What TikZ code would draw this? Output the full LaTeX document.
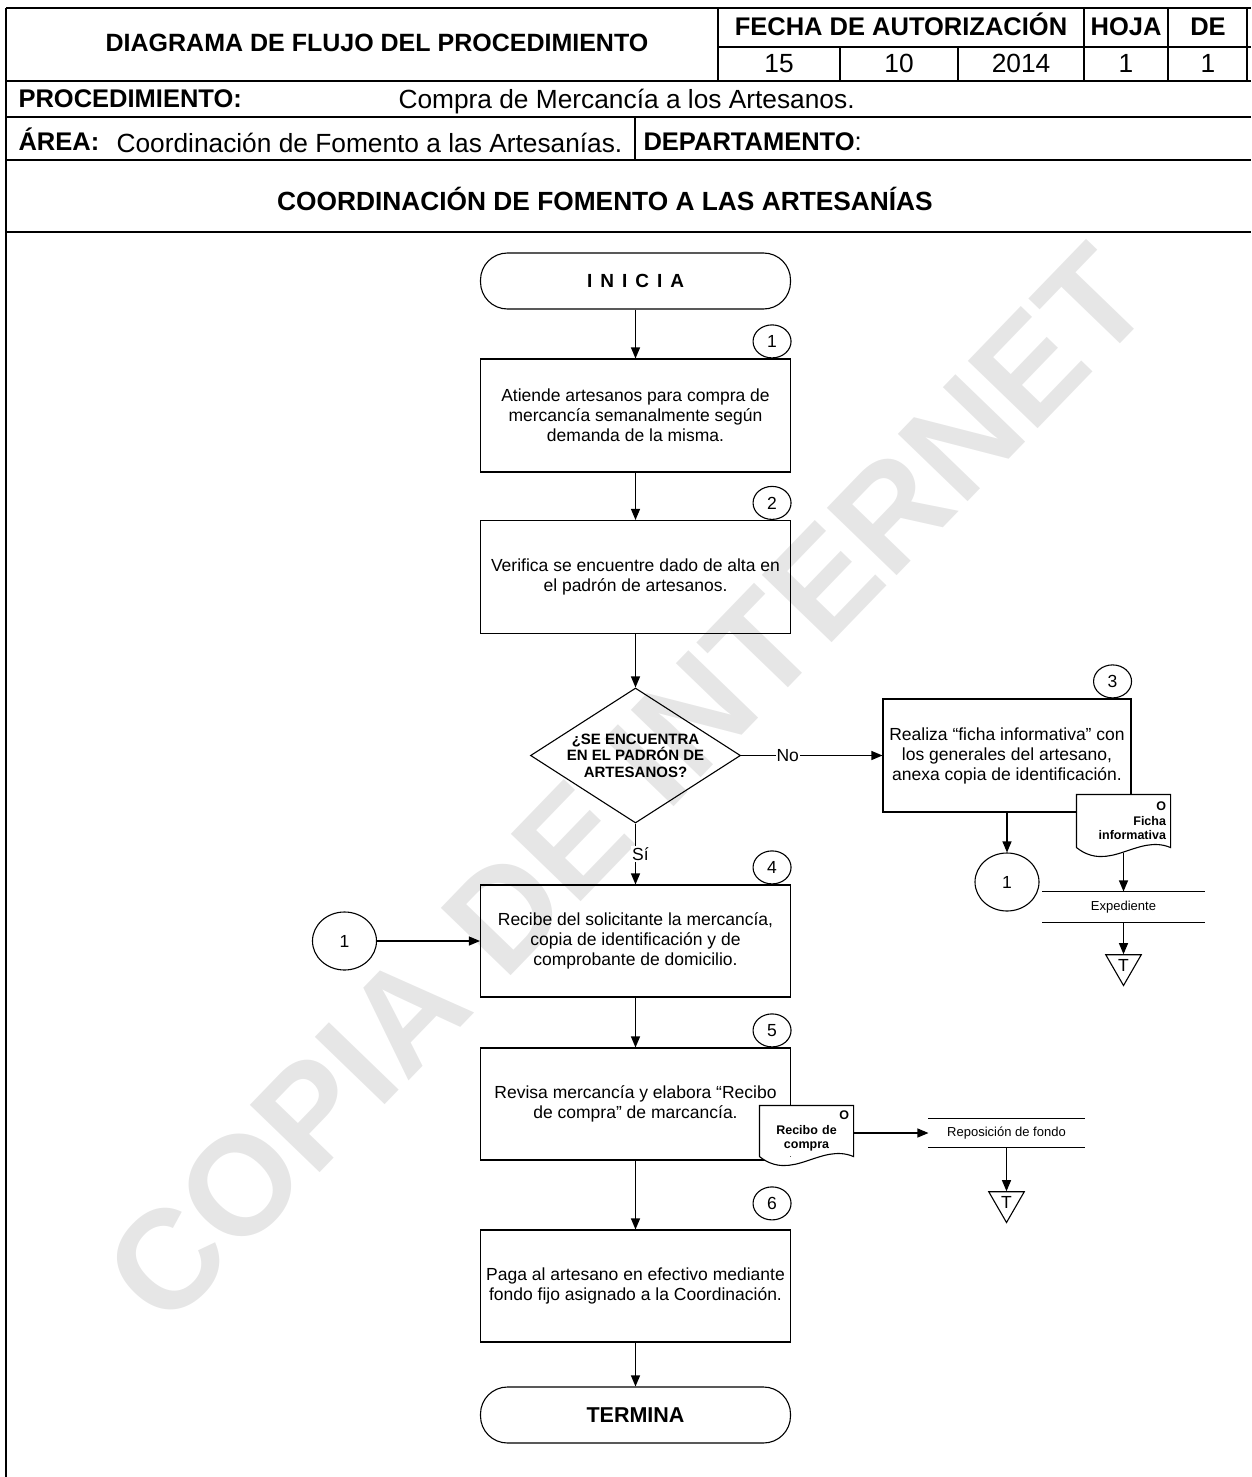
\documentclass[tikz,border=0pt]{standalone}
\usepackage{fontspec}
\setmainfont{Liberation Sans}
\definecolor{wmgray}{HTML}{E6E6E6}
\usetikzlibrary{arrows.meta, calc, positioning, shapes.geometric}

\newcommand{\flowfont}{\fontsize{17.5}{20}\selectfont}
\newcommand{\decfont}{\bfseries\fontsize{15}{16.5}\selectfont}
\newcommand{\docfont}{\bfseries\fontsize{12.5}{14.5}\selectfont}
\newcommand{\filefont}{\fontsize{13}{15}\selectfont}
\newcommand{\hdbfont}{\bfseries\fontsize{25.5}{28}\selectfont}
\newcommand{\hdrfont}{\fontsize{26.3}{30}\selectfont}

% document symbol: sides and wavy bottom drawn round a node
\newcommand{\docwave}[1]{%
  \fill[white] (#1.south east)
     .. controls ($(#1.south east)!0.35!(#1.south west)+(0,-14)$)
     and ($(#1.south west)!0.35!(#1.south east)+(0,26)$) .. (#1.south west) -- cycle;
  \draw (#1.south west) -- (#1.north west) -- (#1.north east) -- (#1.south east)
     .. controls ($(#1.south east)!0.35!(#1.south west)+(0,-14)$)
     and ($(#1.south west)!0.35!(#1.south east)+(0,26)$) .. (#1.south west);}
% file symbol: one line above and one below a node
\newcommand{\filelines}[1]{%
  \draw (#1.north west) -- (#1.north east) (#1.south west) -- (#1.south east);}

\begin{document}
\begin{tikzpicture}[x=1pt, y=-1pt, line width=1.1pt,
   thickrule/.style={line width=2.4pt},
   hdb/.style={font=\hdbfont, inner sep=0pt, anchor=base},
   hdr/.style={font=\hdrfont, inner sep=0pt, anchor=base},
   arr/.style={-{Triangle[length=11pt, width=9pt]}},
   term/.style={draw, rounded corners=27pt, minimum width=310pt, minimum height=56pt, align=center},
   proc/.style={draw, minimum width=310pt, minimum height=113pt, align=center, inner sep=0pt, font=\flowfont},
   num/.style={draw, ellipse, fill=white, minimum width=38pt, minimum height=33pt, inner sep=0pt, font=\flowfont},
   conn/.style={draw, ellipse, minimum width=64pt, minimum height=58pt, inner sep=0pt, font=\flowfont},
   decision/.style={draw, diamond, minimum width=210pt, minimum height=135pt, inner sep=-14pt, align=center, font=\decfont},
   docu/.style={fill=white, minimum width=93pt, minimum height=52pt, text width=85pt, inner sep=3pt, font=\docfont},
   filebox/.style={minimum width=161pt, minimum height=30pt, inner sep=0pt, font=\filefont},
   endmark/.style={draw, regular polygon, regular polygon sides=3, shape border rotate=180, minimum size=41pt, inner sep=0pt, font=\flowfont},
   lbl/.style={fill=white, inner sep=1pt, font=\flowfont}
]
\useasboundingbox (0,0) rectangle (1251,1477);

% Watermark
\node[rotate=46, text=wmgray, font=\bfseries\fontsize{141}{141}\selectfont, inner sep=0pt] (marca) at (627,785) {COPIA DE INTERNET};

% Header frame
\draw[thickrule] (6,8) -- (1251,8);
\draw[thickrule] (718,47) -- (1251,47);
\foreach \y in {81,117,160,232}
   \draw[thickrule] (6,\y) -- (1251,\y);
\draw[thickrule] (6,8) -- (6,1477);
\foreach \x in {718,1084,1168,1247}
   \draw[line width=1.6pt] (\x,8) -- (\x,81);
\foreach \x in {840,958}
   \draw[line width=1.6pt] (\x,47) -- (\x,81);
\draw[line width=1.6pt] (635,117) -- (635,160);

% Header texts
\node[hdb, font=\bfseries\fontsize{25}{28}\selectfont] (titulo) at (377,52) {DIAGRAMA DE FLUJO DEL PROCEDIMIENTO};
\node[hdb] (fecha) at (901,36) {FECHA DE AUTORIZACIÓN};
\node[hdb] (hoja) at (1126,36) {HOJA};
\node[hdb] (de) at (1208,36) {DE};
\node[hdr] (dia) at (779,73) {15};
\node[hdr] (mes) at (899,73) {10};
\node[hdr] (anio) at (1021,73) {2014};
\node[hdr] (hojanum) at (1126,73) {1};
\node[hdr] (denum) at (1208,73) {1};
\node[hdb, anchor=base west] (proc) at (18,108) {PROCEDIMIENTO:};
\node[hdr, anchor=base west] (procnom) at (398,109) {Compra de Mercancía a los Artesanos.};
\node[hdb, anchor=base west] (area) at (18,150) {ÁREA:};
\node[hdr, anchor=base west] (areanom) at (116,153) {Coordinación de Fomento a las Artesanías.};
\node[hdb, anchor=base west] (depto) at (643,150) {DEPARTAMENTO{\mdseries:}};
\node[hdb, font=\bfseries\fontsize{26.3}{28}\selectfont] (coord) at (605,210) {COORDINACIÓN DE FOMENTO A LAS ARTESANÍAS};

% Start
\node[term, font=\bfseries\fontsize{19}{22}\selectfont] (inicia) at (635.5,281) {\spaceskip=8pt I N I C I A};

% Steps 1 and 2
\node[proc] (p1) at (635.5,415.5) {Atiende artesanos para compra de\\mercancía semanalmente según\\demanda de la misma.};
\node[num, anchor=south] (n1) at ($(p1.north east)+(-19,0)$) {1};
\node[proc] (p2) at (635.5,577) {Verifica se encuentre dado de alta en\\el padrón de artesanos.};
\node[num, anchor=south] (n2) at ($(p2.north east)+(-19,0)$) {2};

% Decision
\node[decision] (d1) at (635.5,755.5) {¿SE ENCUENTRA\\EN EL PADRÓN DE\\ARTESANOS?};

% Step 3 (No)
\node[proc, minimum width=248pt] (p3) at (1007,755.5) {Realiza “ficha informativa” con\\los generales del artesano,\\anexa copia de identificación.};
\node[num, anchor=south] (n3) at ($(p3.north east)+(-19,0)$) {3};
\node[docu, align=right] (ficha) at (1123.5,821) {O\\Ficha\\informativa};
\docwave{ficha}
\node[conn] (k1) at (1007,882) {1};
\node[filebox] (exp) at (1123.5,907) {Expediente};
\filelines{exp}
\node[endmark] (t1) at (1123.5,965) {T};

% Step 4 (Sí)
\node[conn] (k2) at (344.5,941) {1};
\node[proc, minimum height=112pt] (p4) at (635.5,941) {Recibe del solicitante la mercancía,\\copia de identificación y de\\comprobante de domicilio.};
\node[num, anchor=south] (n4) at ($(p4.north east)+(-19,0)$) {4};

% Step 5
\node[proc, minimum height=112pt] (p5) at (635.5,1104) {Revisa mercancía y elabora “Recibo\\de compra” de marcancía.};
\node[num, anchor=south] (n5) at ($(p5.north east)+(-19,0)$) {5};
\node[docu, align=center, minimum height=50pt] (recibo) at (806.5,1131) {\hfill O\\Recibo de\\compra};
\docwave{recibo}
\node[filebox, minimum width=155pt, minimum height=28pt] (rep) at (1006.5,1133) {Reposición de fondo};
\filelines{rep}
\node[endmark] (t2) at (1006.5,1202) {T};

% Step 6
\node[proc, minimum height=112pt] (p6) at (635.5,1286) {Paga al artesano en efectivo mediante\\fondo fijo asignado a la Coordinación.};
\node[num, anchor=south] (n6) at ($(p6.north east)+(-19,-9)$) {6};

% End
\node[term, font=\bfseries\fontsize{21.5}{24}\selectfont] (termina) at (635.5,1415) {TERMINA};

% Connectors
\draw[arr] (inicia) -- (p1);
\draw[arr] (p1) -- (p2);
\draw[arr] (p2) -- (d1);
\draw[arr] (d1) -- node[lbl, pos=0.33] (no) {No} (p3);
\draw[arr] (d1) -- node[lbl, xshift=5pt] (si) {Sí} (p4);
\draw[arr] (p3) -- (k1);
\coordinate (fichab) at ($(ficha.south)+(0,5)$);
\draw[arr] (fichab) -- (exp);
\draw[arr] (exp) -- (t1);
\draw[arr] (k2) -- (p4);
\draw[arr] (p4) -- (p5);
\draw[arr] (recibo.east |- rep) -- (rep);
\draw[arr] (rep) -- (t2);
\draw[arr] (p5) -- (p6);
\draw[arr] (p6) -- (termina);
\end{tikzpicture}
\end{document}
